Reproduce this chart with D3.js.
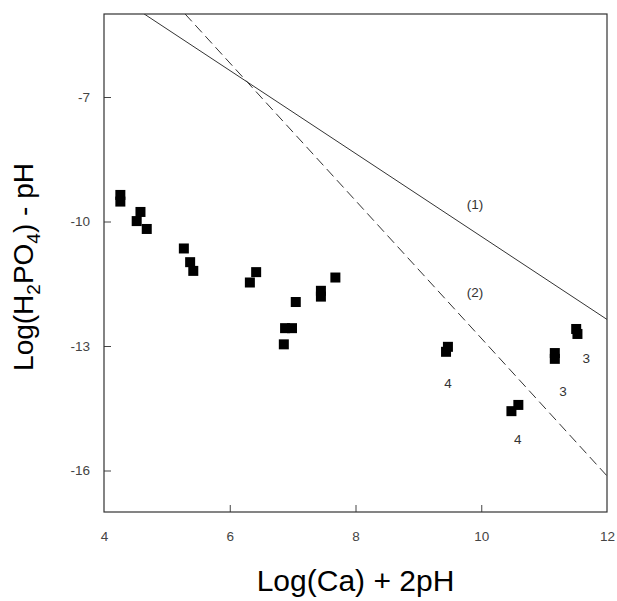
<!DOCTYPE html>
<html>
<head>
<meta charset="utf-8">
<script src="https://cdn.jsdelivr.net/npm/d3@7"></script>
<style>
  body { margin: 0; background: #fff; }
  svg { display: block; font-family: "Liberation Sans", Arial, sans-serif; }
</style>
</head>
<body>
<div id="chart"></div>
<script>
// measured points, Log(Ca)+2pH vs Log(H2PO4)-pH
const xVals = [4.26, 4.26, 4.58, 4.52, 4.68, 5.27, 5.37, 5.42, 6.42, 6.32, 7.05, 7.45, 7.45, 7.68,
               6.88, 6.99, 6.86, 9.44, 9.47, 10.48, 10.59, 11.17, 11.17, 11.51, 11.53];
const yVals = [-9.36, -9.52, -9.77, -9.99, -10.18, -10.65, -10.98, -11.19, -11.22, -11.47, -11.94, -11.67, -11.81, -11.35,
               -12.57, -12.57, -12.96, -13.14, -13.02, -14.57, -14.42, -13.17, -13.31, -12.59, -12.71];

// reference lines (1) solid and (2) dashed, endpoints
const line1 = [[4.0, -4.36], [12.0, -12.36]];
const line2 = [[5.29, -5.0], [12.0, -16.13]];

const xTicks = [4, 6, 8, 10, 12];
const yTicks = [-7, -10, -13, -16];

// small text labels on the plot
const notes = [
  { x: 9.9, y: -9.6, t: "(1)" },
  { x: 9.9, y: -11.7, t: "(2)" },
  { x: 9.47, y: -13.9, t: "4" },
  { x: 10.58, y: -15.25, t: "4" },
  { x: 11.3, y: -14.1, t: "3" },
  { x: 11.67, y: -13.3, t: "3" }
];

const W = 617, H = 601;
const margin = { top: 14, right: 10, bottom: 89, left: 104 };
const width = W - margin.left - margin.right;
const height = H - margin.top - margin.bottom;

const svg = d3.select("#chart").append("svg")
    .attr("width", W)
    .attr("height", H);

const g = svg.append("g")
    .attr("transform", `translate(${margin.left},${margin.top})`);

const x = d3.scaleLinear().domain([4, 12]).range([0, width]);
const y = d3.scaleLinear().domain([-17, -5]).range([height, 0]);

svg.append("defs").append("clipPath")
    .attr("id", "clip")
    .append("rect")
    .attr("width", width)
    .attr("height", height);

// axes with inward ticks
const xAxis = g.append("g")
    .attr("transform", `translate(0,${height})`)
    .call(d3.axisBottom(x).tickValues(xTicks).tickSize(-7).tickPadding(19).tickFormat(d3.format("d")));
const yAxis = g.append("g")
    .call(d3.axisLeft(y).tickValues(yTicks).tickSize(-7).tickPadding(14).tickFormat(d => d3.format("d")(d).replace("\u2212", "-")));

[xAxis, yAxis].forEach(a => {
  a.select(".domain").remove();
  a.selectAll("line").attr("stroke", "#444");
  a.selectAll("text").attr("fill", "#444").style("font-size", "13.5px");
});
// no tick marks at the corners
xAxis.selectAll(".tick").filter(d => d === 4 || d === 12).select("line").remove();

// frame
g.append("rect")
    .attr("width", width)
    .attr("height", height)
    .attr("fill", "none")
    .attr("stroke", "#333")
    .attr("stroke-width", 1.2);

const line = d3.line().x(d => x(d[0])).y(d => y(d[1]));
const plot = g.append("g").attr("clip-path", "url(#clip)");

plot.append("path")
    .datum(line1)
    .attr("fill", "none")
    .attr("stroke", "#333")
    .attr("stroke-width", 1)
    .attr("d", line);

plot.append("path")
    .datum(line2)
    .attr("fill", "none")
    .attr("stroke", "#333")
    .attr("stroke-width", 1)
    .attr("stroke-dasharray", "10,5")
    .attr("d", line);

const sq = 10;
g.selectAll("rect.pt")
    .data(xVals.map((v, i) => [v, yVals[i]]))
    .join("rect")
    .attr("class", "pt")
    .attr("x", d => x(d[0]) - sq / 2)
    .attr("y", d => y(d[1]) - sq / 2)
    .attr("width", sq)
    .attr("height", sq)
    .attr("fill", "#000");

g.selectAll("text.note")
    .data(notes)
    .join("text")
    .attr("class", "note")
    .attr("x", d => x(d.x))
    .attr("y", d => y(d.y))
    .attr("text-anchor", "middle")
    .attr("dominant-baseline", "central")
    .attr("fill", "#333")
    .style("font-size", "13.5px")
    .text(d => d.t);

// axis titles
svg.append("text")
    .attr("x", margin.left + width / 2)
    .attr("y", 591)
    .attr("text-anchor", "middle")
    .attr("fill", "#000")
    .style("font-size", "30px")
    .text("Log(Ca) + 2pH");

const yt = svg.append("text")
    .attr("transform", `translate(33,${margin.top + 253}) rotate(-90)`)
    .attr("text-anchor", "middle")
    .attr("fill", "#000")
    .style("font-size", "28px");
yt.append("tspan").text("Log(H");
yt.append("tspan").attr("dy", 7).style("font-size", "19px").text("2");
yt.append("tspan").attr("dy", -7).text("PO");
yt.append("tspan").attr("dy", 7).style("font-size", "19px").text("4");
yt.append("tspan").attr("dy", -7).text(") - pH");
</script>
</body>
</html>
